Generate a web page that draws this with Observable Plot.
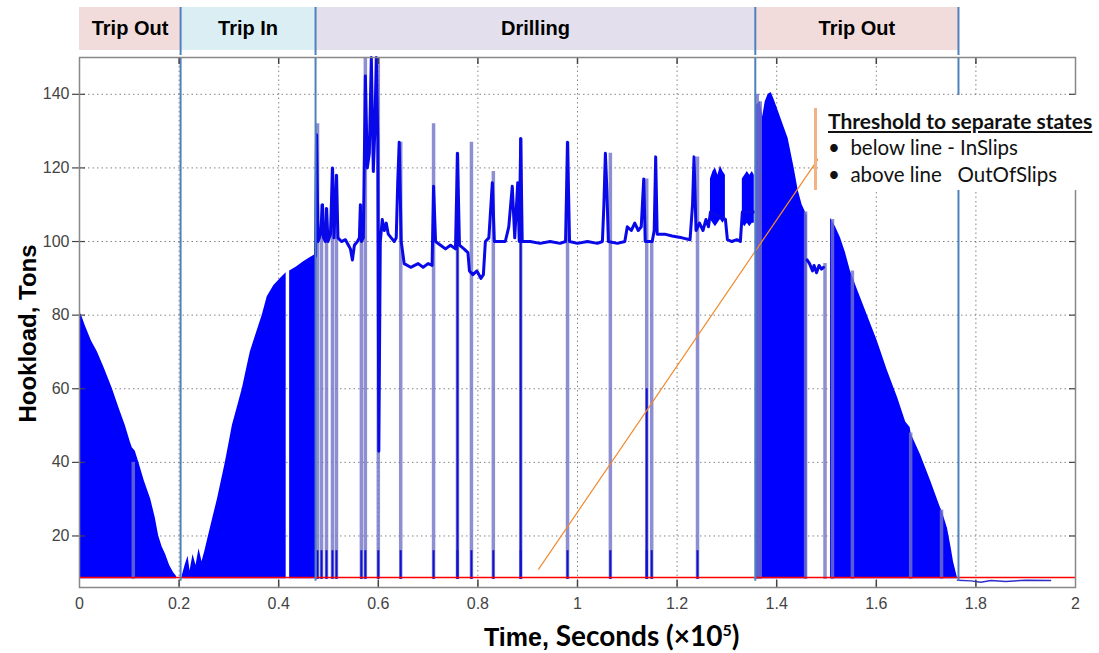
<!DOCTYPE html>
<html><head><meta charset="utf-8">
<script src="https://cdn.jsdelivr.net/npm/d3@7"></script>
<script src="https://cdn.jsdelivr.net/npm/@observablehq/plot@0.6"></script>
<style>
body{margin:0;background:#fff;width:1099px;height:653px;overflow:hidden;position:relative;font-family:"Liberation Sans",Arial,sans-serif}
#header{position:absolute;left:0;top:0}
#main{position:absolute;left:0;top:55px}
#xlabel{position:absolute;left:484px;top:619px;font-weight:bold;white-space:nowrap;line-height:32px;color:#000}
#xlabel .t{font-family:"Liberation Sans",Arial,sans-serif;font-size:25px}
#xlabel .s{font-family:Lato,"Open Sans",sans-serif;font-size:28px}
#xlabel sup{font-size:16px;line-height:0}
#notebox{position:absolute;left:818px;top:95px;width:278px;height:95px;background:#fff}
#notebar{position:absolute;left:814px;top:108px;width:3px;height:82px;background:#f4b183}
#note{position:absolute;left:828px;top:107px;font-family:Lato,"Open Sans",sans-serif;font-size:20.5px;line-height:27px;color:#111;white-space:pre}
#note .h{font-weight:bold;text-decoration:underline;font-size:21px}
</style></head><body>
<div id="header"></div>
<div id="main"></div>
<div id="xlabel"><span class="t">Time,</span><span class="s"> Seconds (×10<sup>5</sup>)</span></div>
<div id="notebox"></div><div id="notebar"></div>
<div id="note"><div class="h">Threshold to separate states</div><div>•  below line - InSlips</div><div>•  above line   OutOfSlips</div></div>
<script>
// ---- data (time in units of 1e5 s, hookload in tons) ----
const phaseNames = ["Trip Out", "Trip In", "Drilling", "Trip Out"];
const phaseStart = [0, 0.203, 0.474, 1.357];
const phaseEnd   = [0.203, 0.474, 1.357, 1.765];
const boundaries = [0.203, 0.474, 1.357, 1.765];
const xTicks = [0, 0.2, 0.4, 0.6, 0.8, 1, 1.2, 1.4, 1.6, 1.8, 2];
const yTicks = [20, 40, 60, 80, 100, 120, 140];
const threshold = 8.7;

const tripOut1Fill = [[0,81],[0.004,80],[0.012,77],[0.024,73],[0.036,70],[0.05,65.5],[0.066,60],[0.08,54.5],[0.092,50],[0.102,45.5],[0.106,44],[0.112,43],[0.119,40],[0.13,35],[0.143,30],[0.152,25],[0.159,20],[0.166,17],[0.173,15],[0.181,12],[0.189,10],[0.195,9]];
const tripInFillA = [[0.206,9],[0.212,12],[0.218,14.5],[0.222,10.5],[0.228,15],[0.234,12],[0.24,16.5],[0.246,13],[0.252,16],[0.259,20],[0.268,25],[0.277,30],[0.285,35],[0.293,40],[0.3,45],[0.307,50],[0.317,55],[0.327,60],[0.335,65],[0.343,70],[0.355,75],[0.367,80],[0.377,85],[0.39,88],[0.404,90],[0.415,91.5]];
const tripInFillB = [[0.422,92],[0.435,93],[0.45,94.5],[0.462,95.5],[0.474,96.5]];
const tripOut2FillA = [[1.359,137],[1.367,138],[1.372,134],[1.377,138],[1.383,140],[1.389,140.5],[1.395,138.5],[1.403,135.5],[1.415,131],[1.423,128],[1.435,120],[1.443,114],[1.451,110],[1.461,107]];
const tripOut2FillB = [[1.508,106.3],[1.518,104],[1.528,101],[1.538,97],[1.548,92],[1.562,87],[1.582,80],[1.602,73],[1.622,65],[1.643,57.5],[1.659,51],[1.668,49.5],[1.670,47.7],[1.689,42],[1.709,35],[1.729,27.6],[1.732,26.8],[1.743,22],[1.750,17],[1.755,13],[1.763,8.6]];
const tripOut2Plateau = [[1.461,95],[1.466,94],[1.472,92],[1.475,93.5],[1.48,91.5],[1.485,93.5],[1.49,92.5],[1.494,93]];
const tailBaseline = [[1.763,8],[1.79,7.8],[1.81,7.4],[1.83,7.9],[1.86,7.6],[1.9,8],[1.95,7.9]];

const drilling = [[0.474,96],[0.476,129],[0.479,100],[0.484,102],[0.488,110],[0.490,101],[0.494,100],[0.496,109],[0.499,100],[0.504,102],[0.508,120],[0.511,101],[0.516,118],[0.519,101],[0.526,100],[0.534,100.5],[0.540,99],[0.544,98],[0.548,95],[0.552,99],[0.558,100],[0.562,101],[0.564,110],[0.566,100],[0.570,101],[0.574,145],[0.578,120],[0.582,124],[0.586,150],[0.590,119],[0.593,130],[0.596,150],[0.599,128],[0.601,43],[0.604,100],[0.608,106],[0.612,103],[0.616,105],[0.620,102],[0.626,101],[0.632,100],[0.636,101],[0.639,116],[0.642,127],[0.646,100],[0.652,94],[0.665,93],[0.680,94],[0.690,93],[0.700,94],[0.708,93.5],[0.711,115],[0.715,100],[0.725,99],[0.735,98],[0.745,99],[0.755,98],[0.759,124],[0.763,99],[0.772,98],[0.780,97],[0.783,92],[0.790,91],[0.798,92],[0.806,90],[0.811,91],[0.815,100],[0.822,101],[0.829,116],[0.833,100],[0.845,100],[0.855,100],[0.862,104],[0.869,115],[0.874,101],[0.880,116],[0.883,100],[0.886,128],[0.889,100],[0.905,100],[0.925,99.5],[0.945,100],[0.965,99.5],[0.976,100],[0.980,127],[0.984,100],[1.000,99.5],[1.020,100],[1.040,99.5],[1.050,100],[1.053,110],[1.056,124],[1.059,114],[1.062,100],[1.080,99.5],[1.095,100],[1.100,104],[1.108,103],[1.115,105],[1.122,103],[1.128,104],[1.133,117],[1.136,100],[1.150,100],[1.154,103],[1.157,123],[1.160,102],[1.175,102],[1.190,101.5],[1.210,101],[1.226,100.5],[1.231,110],[1.234,123],[1.238,103],[1.245,105],[1.252,103],[1.258,106],[1.263,104],[1.267,108],[1.297,106],[1.301,100.5],[1.310,100],[1.320,100.5],[1.327,100],[1.331,108],[1.355,108]];
const band1 = [[1.267,106,117],[1.272,105,119],[1.277,104,120],[1.282,105,118],[1.287,106,120.5],[1.292,105,119],[1.297,106,118]];
const band2 = [[1.331,105,117],[1.336,104,118],[1.341,105,119],[1.346,104,118],[1.351,105,119],[1.355,105,118]];

// dips to the in-slips level: [time, top of excursion]
const dips = [[0.108,40],[0.478,132],[0.486,110],[0.496,109],[0.508,120],[0.516,118],[0.566,110],[0.574,150],[0.600,150],[0.645,127],[0.711,132],[0.759,124],[0.787,127],[0.831,119],[0.886,128],[0.980,127],[1.066,124],[1.139,117],[1.149,100],[1.241,123],[1.361,140],[1.367,138],[1.458,108],[1.497,94],[1.512,106],[1.552,92],[1.669,48],[1.731,27]];
const darkDips = [[0.759,124],[0.886,128],[1.139,60]];
const thresholdLine = [[0.922,11],[1.484,122.6]];

// ---- drawing ----
const phaseColor = {"Trip Out": "#f2dcdb", "Trip In": "#dbeef3", "Drilling": "#e4dfec"};
const phases = phaseNames.map((name, i) => ({name, start: phaseStart[i], end: phaseEnd[i]}));
const BLUE = "#0000ff";
const X = d => d[0], Y = d => d[1];

const header = Plot.plot({
  width: 1099, height: 55, marginLeft: 79, marginRight: 24, marginTop: 7, marginBottom: 0,
  x: {domain: [0, 2], axis: null},
  y: {axis: null},
  marks: [
    Plot.barX(phases, {x1: "start", x2: "end", fill: d => phaseColor[d.name], insetBottom: 5}),
    Plot.text(phases, {x: d => (d.start + d.end) / 2, text: "name", fontSize: 20, fontWeight: "bold", fill: "#000", dy: -3, fontFamily: "Liberation Sans, Arial, sans-serif"}),
    Plot.ruleX(boundaries, {stroke: "#4f81bd", strokeWidth: 2})
  ]
});
document.getElementById("header").append(header);

const areaOpts = {x: X, y1: threshold - 0.3, y2: Y, fill: BLUE};
const main = Plot.plot({
  width: 1099, height: 570, marginLeft: 79, marginRight: 24, marginTop: 2, marginBottom: 38,
  x: {domain: [0, 2]},
  y: {domain: [6, 150]},
  style: {fontFamily: "Liberation Sans, Arial, sans-serif", fontSize: "16px", color: "#444", background: "transparent"},
  marks: [
    Plot.gridY(yTicks, {stroke: "#777", strokeOpacity: 0.9, strokeDasharray: "1.5,3"}),
    Plot.gridX(xTicks.slice(1, -1), {stroke: "#777", strokeOpacity: 0.9, strokeDasharray: "1.5,3"}),
    Plot.areaY(tripOut1Fill, areaOpts),
    Plot.areaY(tripInFillA, areaOpts),
    Plot.areaY(tripInFillB, areaOpts),
    Plot.areaY(tripOut2FillA, areaOpts),
    Plot.areaY(tripOut2FillB, areaOpts),
    Plot.ruleX(dips, {x: X, y1: threshold - 0.5, y2: Y, stroke: "#7272c8", strokeWidth: 3.5, strokeOpacity: 0.8}),
    Plot.ruleX(dips.slice(1, 20), {x: X, y1: threshold - 0.5, y2: 16, stroke: "#1010d0", strokeWidth: 2}),
    Plot.ruleX(darkDips, {x: X, y1: threshold - 0.5, y2: Y, stroke: "#1010d0", strokeWidth: 2}),
    Plot.areaY(band1, {x: X, y1: Y, y2: d => d[2], fill: BLUE}),
    Plot.areaY(band2, {x: X, y1: Y, y2: d => d[2], fill: BLUE}),
    Plot.line(drilling, {x: X, y: Y, stroke: "#0808e8", strokeWidth: 3}),
    Plot.line(tripOut2Plateau, {x: X, y: Y, stroke: "#0808e8", strokeWidth: 3}),
    Plot.line(tailBaseline, {x: X, y: Y, stroke: "#3030c8", strokeWidth: 1.5}),
    Plot.ruleY([threshold], {stroke: "#ff0000", strokeWidth: 1.6}),
    Plot.line(thresholdLine, {x: X, y: Y, stroke: "#f08a30", strokeWidth: 1.2}),
    Plot.ruleX(boundaries, {y1: threshold - 1, y2: 150, stroke: "#4f81bd", strokeWidth: 2}),
    Plot.ruleX(xTicks.slice(1, -1), {y1: 6, y2: 7.9, stroke: "#444", strokeWidth: 1.5}),
    Plot.ruleX(xTicks.slice(1, -1), {y1: 148.1, y2: 150, stroke: "#444", strokeWidth: 1.5}),
    Plot.ruleY(yTicks, {x1: -0.014, x2: 0.012, stroke: "#444", strokeWidth: 1.2, clip: false}),
    Plot.ruleY(yTicks, {x1: 1.988, x2: 2, stroke: "#444", strokeWidth: 1.2}),
    Plot.frame({stroke: "#888", strokeWidth: 1.5}),
    Plot.axisX(xTicks, {tickSize: 0, tickPadding: 10, tickFormat: d => String(d), label: null, fill: "#444"}),
    Plot.axisY(yTicks, {tickSize: 0, tickPadding: 10, label: null, fill: "#444"}),
    Plot.text(["Hookload, Tons"], {frameAnchor: "left", textAnchor: "middle", dx: -51, dy: 11, rotate: -90, fontSize: 24, fontWeight: "bold", fill: "#000", fontFamily: "Liberation Sans, Arial, sans-serif"})
  ]
});
document.getElementById("main").append(main);
</script>
</body></html>
